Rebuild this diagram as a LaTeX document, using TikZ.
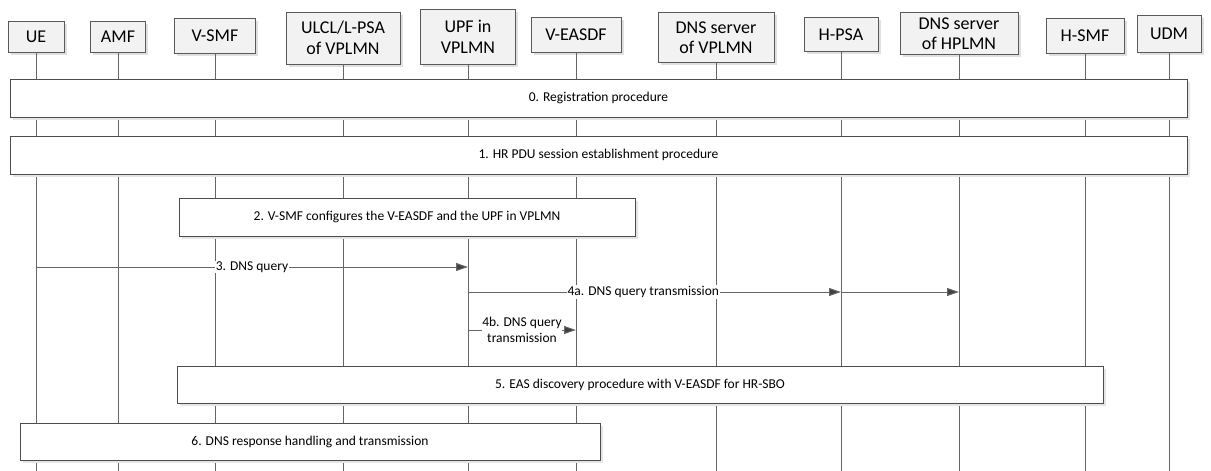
\documentclass[tikz,border=0pt]{standalone}
\usepackage{fontspec}
\setmainfont{Carlito}
\usetikzlibrary{arrows.meta,shadows}

\tikzset{
  hdr/.style={draw=black!65, fill=black!5, align=center, inner sep=0pt,
    font=\fontsize{18}{20.5}\selectfont,
    drop shadow={shadow xshift=2.5pt, shadow yshift=-2.5pt, fill=black!12, opacity=1}},
  stepbox/.style={draw=black!70, fill=white, inner sep=0pt,
    font=\fontsize{13.5}{15}\selectfont,
    drop shadow={shadow xshift=2.5pt, shadow yshift=-2.5pt, fill=black!10, opacity=1}},
  life/.style={draw=black!60, line width=1pt},
  msg/.style={draw=black!60, line width=1pt, -{Triangle[length=12pt,width=8pt,fill=black!75]}},
  lbl/.style={fill=white, inner sep=1pt, font=\fontsize{13.5}{15.5}\selectfont, align=center}
}

\begin{document}
\begin{tikzpicture}[x=1pt,y=-1pt]
\useasboundingbox (0,0) rectangle (1211,471);

% entities
\node [hdr, minimum width=56pt, minimum height=31pt] (ue) at (36,36.5) {UE};
\node [hdr, minimum width=55pt, minimum height=31pt] (amf) at (118,36.5) {AMF};
\node [hdr, minimum width=81pt, minimum height=35pt] (vsmf) at (215,36) {V-SMF};
\node [hdr, minimum width=114pt, minimum height=52pt] (ulcl) at (343,38) {ULCL/L-PSA\\of VPLMN};
\node [hdr, minimum width=95pt, minimum height=55pt] (upf) at (468,37) {UPF in\\VPLMN};
\node [hdr, minimum width=90pt, minimum height=35pt] (veasdf) at (576,35) {V-EASDF};
\node [hdr, minimum width=116pt, minimum height=50pt] (dnsv) at (716,37.5) {DNS server\\of VPLMN};
\node [hdr, minimum width=74pt, minimum height=34pt] (hpsa) at (841,34.5) {H-PSA};
\node [hdr, minimum width=118pt, minimum height=42pt] (dnsh) at (959,33.5) {DNS server\\of HPLMN};
\node [hdr, minimum width=78pt, minimum height=35pt] (hsmf) at (1085,35.5) {H-SMF};
\node [hdr, minimum width=64pt, minimum height=37pt] (udm) at (1169,33.5) {UDM};

% lifelines
\foreach \n in {ue,amf,vsmf,ulcl,upf,veasdf,dnsv,hpsa,dnsh,hsmf,udm}
  \draw [life] (\n.south) -- (\n.south |- 0,471);

% procedure steps
\node [stepbox, minimum width=1177pt, minimum height=38pt] (s0) at (598.5,98) {0. Registration procedure};
\node [stepbox, minimum width=1177pt, minimum height=38pt] (s1) at (598.5,155) {1. HR PDU session establishment procedure};
\node [stepbox, minimum width=456pt, minimum height=38pt] (s2) at (407,217) {2. V-SMF configures the V-EASDF and the UPF in VPLMN};
\node [stepbox, minimum width=926pt, minimum height=37pt] (s5) at (640,384.5) {5. EAS discovery procedure with V-EASDF for HR-SBO};
\node [stepbox, minimum width=580pt, minimum height=37pt] (s6) at (310,441.5) {6. DNS response handling and transmission};

% messages
\draw [msg] (ue |- 0,267) -- node [lbl] {3. DNS query} (upf |- 0,267);
\draw [msg] (upf |- 0,292) -- node [lbl, pos=0.47] {4a. DNS query transmission} (hpsa |- 0,292);
\draw [msg] (hpsa |- 0,292) -- (dnsh |- 0,292);
\draw [msg] (upf |- 0,330) -- node [lbl, inner sep=0pt] {4b. DNS query\\transmission} (veasdf |- 0,330);

\end{tikzpicture}
\end{document}
